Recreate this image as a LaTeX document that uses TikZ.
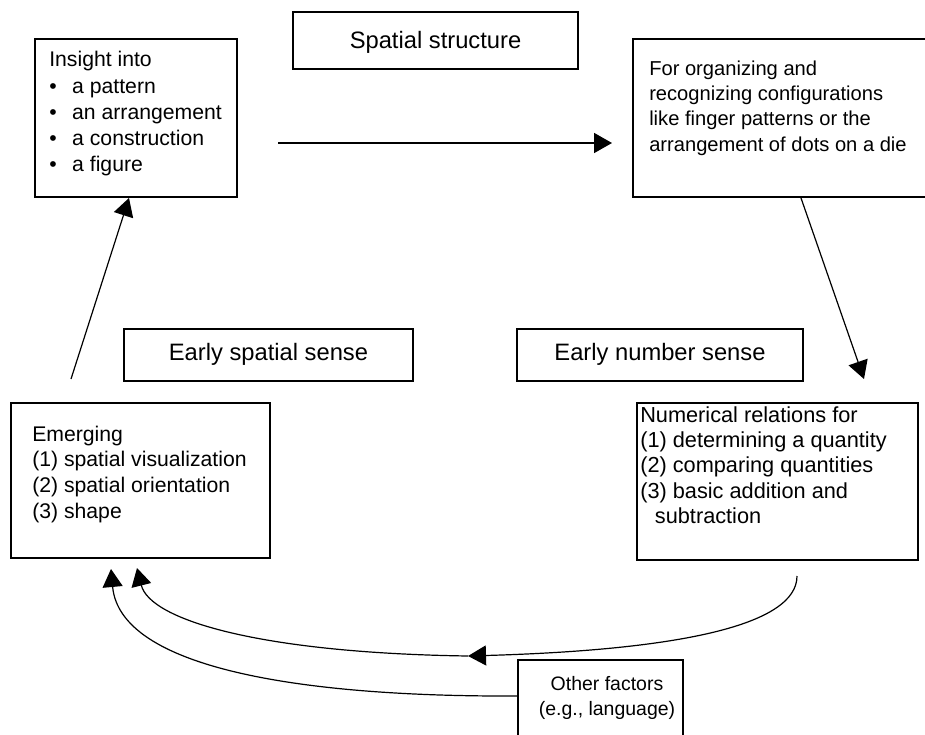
\documentclass[tikz,border=0pt]{standalone}
\usepackage{fontspec}
\setmainfont{Liberation Sans}
\usetikzlibrary{arrows.meta,calc,fit}

% bullet item with a fixed hanging gap
\newcommand\bulitem{\makebox[17.2pt][l]{\textbullet}}

\begin{document}
\begin{tikzpicture}[x=0.75pt,y=-0.75pt,
  box/.style={draw, line width=1.5pt, inner sep=0pt},
  boxtext/.style={inner sep=0pt, anchor=base west},
  heading/.style={inner sep=0pt, anchor=base, font=\fontsize{17.8}{21}\selectfont},
  tip/.style={-{Triangle[length=13.5pt,width=15pt]}},
  link/.style={tip, line width=0.9pt},
]
\useasboundingbox (0,0) rectangle (925,735);
\clip (0,0) rectangle (925,735);

% boxes
\node[box, fit={(35,39) (237,197)}] (insight) {};
\node[box, fit={(633,39) (950,197)}] (config) {};
\node[box, fit={(293,12) (578,69)}] (struct) {};
\node[box, fit={(124,329) (413,381)}] (spatial) {};
\node[box, fit={(517,329) (803,381)}] (number) {};
\node[box, fit={(11,403) (270,558)}] (emerg) {};
\node[box, fit={(637,403) (918,560)}] (numrel) {};
\node[box, fit={(518,660) (683,770)}] (other) {};

% headings
\node[heading] (structT) at ($(struct.center)+(0,8)$) {Spatial structure};
\node[heading] (spatialT) at ($(spatial.center)+(0,5.5)$) {Early spatial sense};
\node[heading] (numberT) at ($(number.center)+(0,5.5)$) {Early number sense};

% box contents
\node[boxtext, font=\fontsize{15.9}{19.6}\selectfont] (insightT) at (49,67) {\begin{tabular}[t]{@{}l@{}}Insight into\\
  \bulitem a pattern\\ \bulitem an arrangement\\ \bulitem a construction\\ \bulitem a figure\end{tabular}};
\node[boxtext, font=\fontsize{15.1}{19.1}\selectfont] (configT) at (649,75) {\begin{tabular}[t]{@{}l@{}}For organizing and\\
  recognizing configurations\\ like finger patterns or the\\ arrangement of dots on a die\end{tabular}};
\node[boxtext, font=\fontsize{15.9}{19.35}\selectfont] (emergT) at (32,441) {\begin{tabular}[t]{@{}l@{}}Emerging\\
  (1) spatial visualization\\ (2) spatial orientation\\ (3) shape\end{tabular}};
\node[boxtext, font=\fontsize{16.3}{19.1}\selectfont] (numrelT) at (640,422) {\begin{tabular}[t]{@{}l@{}}Numerical relations for\\
  (1) determining a quantity\\ (2) comparing quantities\\ (3) basic addition and\\
  \hspace{11pt}subtraction\end{tabular}};
\node[boxtext, anchor=base, font=\fontsize{14.6}{18.8}\selectfont] (otherT) at (607,690) {\begin{tabular}[t]{@{}c@{}}Other factors\\(e.g., language)\end{tabular}};

% connector end points
\coordinate (hStart) at ($(insight.east)+(40,25)$);
\coordinate (hEnd)   at ($(config.west)+(-20,25)$);
\coordinate (cfgOut) at ($(config.south west)+(169,0)$);
\coordinate (numIn)  at ($(numrel.north west)+(228,-23)$);
\coordinate (numOut) at ($(numrel.south west)+(161,15)$);
\coordinate (merge)  at (468,656);
\coordinate (emIn1)  at ($(emerg.south west)+(127,9)$);
\coordinate (emIn2)  at ($(emerg.south west)+(101,10)$);
\coordinate (otherOut) at ($(other.north west)+(0,37)$);
\coordinate (emOut)  at ($(emerg.north west)+(61,-23)$);
\coordinate (insIn)  at ($(insight.south west)+(95,0)$);

% connectors
\draw[tip, line width=1.25pt] (hStart) -- (hEnd);
\draw[link] (cfgOut) -- (numIn);
\draw[link] (emOut) -- (insIn);
\draw[link] (numOut) .. controls (797,625) and (680,650) .. (merge);
\draw[link] (merge) .. controls (260,653) and (150,620) .. (emIn1);
\draw[link] (otherOut) .. controls (300,697) and (120,668) .. (emIn2);
\end{tikzpicture}
\end{document}
